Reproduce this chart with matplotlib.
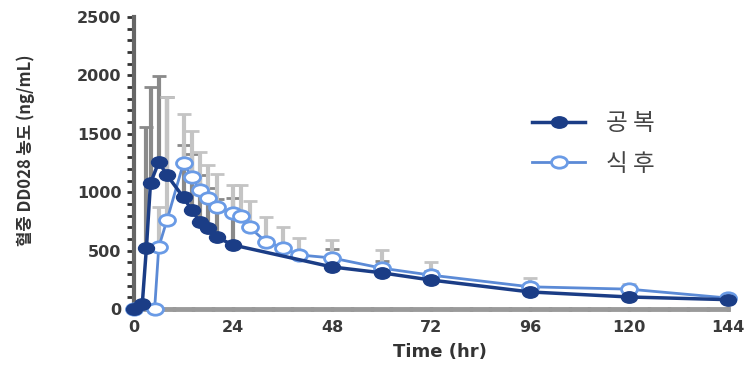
import numpy as np
import matplotlib
matplotlib.use("Agg")
import matplotlib.pyplot as plt
from matplotlib.path import Path
from matplotlib.transforms import Affine2D
from matplotlib.ticker import MultipleLocator, AutoMinorLocator

# ---- data ----
fast_t = [0, 2, 3, 4, 6, 8, 12, 14, 16, 18, 20, 24, 48, 60, 72, 96, 120, 144]
fast_y = [0, 40, 520, 1078, 1258, 1147, 955, 847, 745, 690, 616, 548, 360, 310, 248, 146, 103, 80]
fast_sd = [0, 0, 1040, 820, 740, 670, 450, 480, 400, 350, 330, 400, 150, 100, 80, 60, 40, 30]

fed_t = [0, 5, 6, 8, 12, 14, 16, 18, 20, 24, 26, 28, 32, 36, 40, 48, 60, 72, 96, 120, 144]
fed_y = [0, 0, 530, 762, 1250, 1130, 1018, 950, 873, 820, 800, 700, 575, 525, 463, 437, 350, 290, 190, 170, 94]
fed_sd = [0, 0, 345, 1050, 420, 390, 330, 280, 280, 240, 260, 225, 215, 175, 145, 153, 155, 110, 75, 40, 20]

labels = ["공 복", "식 후"]
xticks = [0, 24, 48, 72, 96, 120, 144]
yticks = [0, 500, 1000, 1500, 2000, 2500]
xlabel = "Time (hr)"
ylabel = "혈중 DD028 농도 (ng/mL)"

# ---- style ----
navy = "#1b3d86"
light = "#6a9be6"
ell = Path.unit_circle().transformed(Affine2D().scale(1.4, 1.0))

fig = plt.figure(figsize=(7.53, 3.68), dpi=100)
ax = fig.add_axes([134/753, 59/368, (728-134)/753, (309-17)/368])

ax.errorbar(fast_t, fast_y, yerr=[np.zeros(len(fast_sd)), fast_sd], fmt="none",
            ecolor="#8a8a8a", elinewidth=3, capsize=5, capthick=2, zorder=1)
ax.errorbar(fed_t, fed_y, yerr=[np.zeros(len(fed_sd)), fed_sd], fmt="none",
            ecolor="#c4c4c4", elinewidth=3, capsize=5, capthick=2, zorder=1)

l1, = ax.plot(fast_t, fast_y, color=navy, lw=2.5, marker=ell, ms=11.5,
              mfc=navy, mec=navy, zorder=4, clip_on=False)
l2, = ax.plot(fed_t, fed_y, color="#5b8ad6", lw=2, marker=ell, ms=11.5,
              mfc="white", mec=light, mew=2, zorder=3, clip_on=False)

ax.set_xlim(0, 144)
ax.set_ylim(0, 2500)
ax.set_xticks(xticks)
ax.set_yticks(yticks)
ax.xaxis.set_minor_locator(AutoMinorLocator(5))
ax.yaxis.set_minor_locator(MultipleLocator(100))

for s in ["top", "right"]:
    ax.spines[s].set_visible(False)
ax.spines["left"].set_color("#666666")
ax.spines["left"].set_linewidth(3)
ax.spines["bottom"].set_color("#9a9a9a")
ax.spines["bottom"].set_linewidth(3.5)

ax.tick_params(axis="y", which="both", direction="out", length=5, width=2,
               color="#333333", pad=4)
ax.tick_params(axis="x", which="both", direction="inout", length=2.5, width=2.5,
               color="#333333", pad=7)
for lab in ax.get_xticklabels() + ax.get_yticklabels():
    lab.set_fontweight("bold")
    lab.set_fontsize(11.5)
    lab.set_color("#3a3a3a")
    lab.set_family("DejaVu Sans")

fig.text(440/753, 1-352/368, xlabel, ha="center", va="center", fontsize=13,
         fontweight="bold", color="#333333", family="DejaVu Sans")
fig.text(26/753, 1-150/368, ylabel, ha="center", va="center", rotation=90,
         fontsize=12, fontweight="bold", color="#333333",
         family=["Noto Sans CJK KR", "DejaVu Sans"])

leg = fig.legend([l1, l2], labels, loc="upper left",
                 bbox_to_anchor=(532/753, 1-112/368), frameon=False,
                 prop={"family": ["Noto Sans CJK KR", "DejaVu Sans"], "size": 17},
                 handlelength=2.25, handletextpad=0.9, labelspacing=0.75,
                 borderpad=0, borderaxespad=0)
for t in leg.get_texts():
    t.set_color("#444444")

fig.savefig("out.png", dpi=100)
